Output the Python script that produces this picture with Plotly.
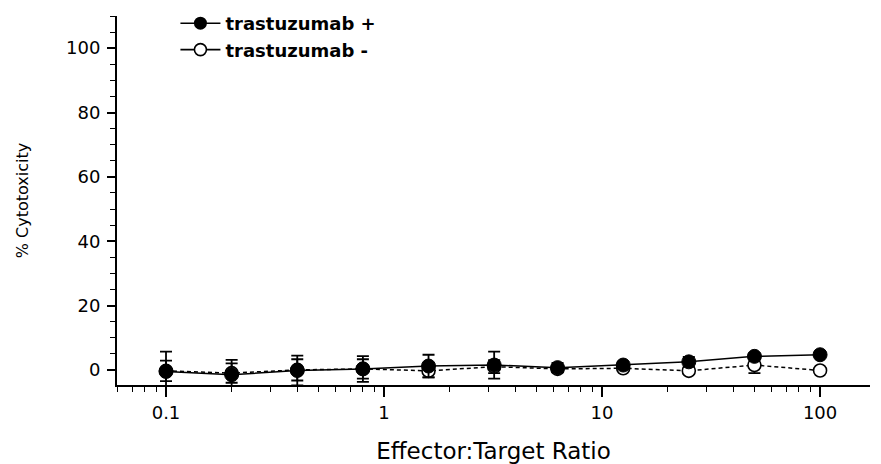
import plotly.graph_objects as go

ratios = [0.1, 0.2, 0.4, 0.8, 1.6, 3.2, 6.25, 12.5, 25, 50, 100]
tz_plus = [-0.5, -1.5, -0.2, 0.3, 1.2, 1.5, 0.7, 1.5, 2.5, 4.2, 4.7]
tz_plus_err = [6.2, 4.6, 4.6, 4.0, 3.5, 4.2, 1.5, 1.0, 1.5, 1.0, 0.8]
tz_minus = [-0.3, -1.0, 0.0, 0.3, -0.3, 1.0, 0.3, 0.5, -0.3, 1.5, -0.2]
tz_minus_err = [3.2, 3.0, 3.3, 3.0, 2.0, 2.0, 1.0, 0.8, 1.0, 2.5, 0.8]

y_ticks = [0, 20, 40, 60, 80, 100]
x_ticks = [0.1, 1, 10, 100]
x_ticklabels = ["0.1", "1", "10", "100"]
x_minor = [m * d for d in (0.01, 0.1, 1, 10, 100) for m in range(2, 10)]

series_names = ["trastuzumab +", "trastuzumab -"]

fig = go.Figure()
# data traces (legend entries are provided separately with solid lines)
fig.add_trace(go.Scatter(
    x=ratios, y=tz_minus, name=series_names[1], mode="lines+markers",
    line=dict(color="black", width=1.5, dash="4px,3px"),
    marker=dict(symbol="circle", size=13, color="white",
                line=dict(color="black", width=1.6)),
    error_y=dict(type="data", array=tz_minus_err, color="black",
                 thickness=1.8, width=6),
    showlegend=False,
))
fig.add_trace(go.Scatter(
    x=ratios, y=tz_plus, name=series_names[0], mode="lines+markers",
    line=dict(color="black", width=1.5),
    marker=dict(symbol="circle", size=14, color="black",
                line=dict(color="black", width=1)),
    error_y=dict(type="data", array=tz_plus_err, color="black",
                 thickness=1.8, width=6),
    showlegend=False,
))
# legend-only entries
fig.add_trace(go.Scatter(
    x=[None], y=[None], name=series_names[0], mode="lines+markers",
    line=dict(color="black", width=1.6),
    marker=dict(symbol="circle", size=13, color="black"),
    legendrank=1,
))
fig.add_trace(go.Scatter(
    x=[None], y=[None], name=series_names[1], mode="lines+markers",
    line=dict(color="black", width=1.6),
    marker=dict(symbol="circle", size=12, color="white",
                line=dict(color="black", width=1.6)),
    legendrank=2,
))

axis_font = dict(family="DejaVu Sans", size=18, color="black")

fig.update_layout(
    width=873, height=456,
    margin=dict(l=109, r=11, t=8, b=79, autoexpand=False),
    paper_bgcolor="white", plot_bgcolor="white",
    showlegend=True,
    legend=dict(x=0.0776, y=1.0298, xref="paper", yref="paper",
                xanchor="left", yanchor="top",
                bgcolor="rgba(0,0,0,0)",
                font=dict(family="DejaVu Sans", size=18, color="black",
                          weight="bold"),
                tracegroupgap=0, itemwidth=40),
    xaxis=dict(
        type="log", range=[-1.2248, 2.229], automargin=False,
        tickvals=x_ticks, ticktext=x_ticklabels,
        ticks="outside", ticklen=10, tickwidth=1.6, tickcolor="black",
        minor=dict(tickvals=x_minor, ticks="outside", ticklen=5,
                   tickwidth=1.4, tickcolor="black", showgrid=False),
        showline=True, linecolor="black", linewidth=2,
        showgrid=False, zeroline=False,
        tickfont=axis_font,
        title=dict(text="Effector:Target Ratio",
                   font=dict(family="DejaVu Sans", size=23, color="black"),
                   standoff=21),
    ),
    yaxis=dict(
        range=[-4.7, 110], automargin=False,
        tickvals=y_ticks,
        ticks="outside", ticklen=8, tickwidth=1.6, tickcolor="black",
        minor=dict(ticks="outside", ticklen=5, tickwidth=1.4,
                   tickcolor="black", dtick=5, showgrid=False),
        showline=True, linecolor="black", linewidth=2,
        showgrid=False, zeroline=False,
        tickfont=axis_font,
        ticklabelstandoff=3,
        title=dict(text="% Cytotoxicity",
                   font=dict(family="DejaVu Sans", size=16, color="black"),
                   standoff=33),
    ),
)

fig.write_html("out.html")
